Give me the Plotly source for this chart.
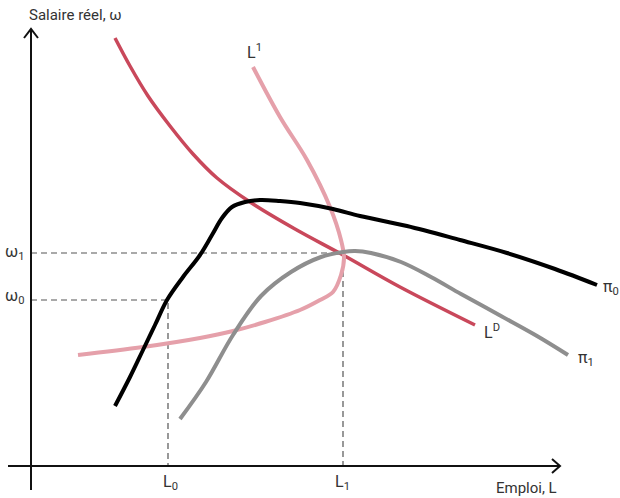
import plotly.graph_objects as go

# Data (chart units: x = employment, y = real wage)
ld_x = [84, 99, 117, 139, 162, 186, 219, 264, 312, 369, 444]
ld_y = [428, 400, 370, 340, 312, 288, 264, 237, 211, 179, 141]

l1_x = [222, 249, 276, 299, 310, 313, 310, 302, 289, 269, 234, 202, 169, 112, 47]
l1_y = [399, 349, 306, 259, 226, 208, 191, 174, 166, 156, 144, 135, 128, 119, 111]

pi0_x = [84, 99, 112, 124, 136, 152, 169, 181, 191, 201, 214, 229, 249, 269, 302, 329, 376, 429, 476, 524, 566]
pi0_y = [60, 89, 116, 141, 166, 189, 211, 231, 248, 259, 264, 266, 265, 263, 257, 250, 240, 226, 213, 197, 181]

pi1_x = [149, 175, 202, 230, 260, 290, 312, 324, 340, 370, 400, 430, 470, 506, 537]
pi1_y = [47, 84, 131, 170, 194, 209, 214, 215, 213, 204, 189, 172, 150, 130, 111]

L0, L1 = 137, 312
W0, W1 = 166, 213

fig = go.Figure()

dash_style = dict(color="#555555", width=1.2, dash="6px,4px")
fig.add_trace(go.Scatter(x=[0, L1, L1], y=[W1, W1, 0], mode="lines", line=dash_style, hoverinfo="skip"))
fig.add_trace(go.Scatter(x=[0, L0, L0], y=[W0, W0, 0], mode="lines", line=dash_style, hoverinfo="skip"))

fig.add_trace(go.Scatter(x=ld_x, y=ld_y, mode="lines", line=dict(color="#c9485b", width=3.5, shape="spline")))
fig.add_trace(go.Scatter(x=l1_x, y=l1_y, mode="lines", line=dict(color="#e5a0aa", width=4, shape="spline")))
fig.add_trace(go.Scatter(x=pi1_x, y=pi1_y, mode="lines", line=dict(color="#8e8e8e", width=4, shape="spline")))
fig.add_trace(go.Scatter(x=pi0_x, y=pi0_y, mode="lines", line=dict(color="#000000", width=4, shape="spline")))

# Axes with arrowheads
ax = dict(type="line", xref="x", yref="y", line=dict(color="#111111", width=2))
shapes = [
    dict(ax, x0=0, y0=-24, x1=0, y1=437),
    dict(ax, x0=-23, y0=0, x1=529, y1=0),
    dict(type="path", xref="x", yref="y", path="M -7,428 L 0,437 L 7,428", line=dict(color="#111111", width=2)),
    dict(type="path", xref="x", yref="y", path="M 521,7 L 529,0 L 521,-7", line=dict(color="#111111", width=2)),
]

tc = "#333333"
F = "Roboto"
def ann(x, y, text, size=16, xa="center", ya="middle"):
    return dict(x=x, y=y, xref="x", yref="y", text=text, showarrow=False,
                xanchor=xa, yanchor=ya, font=dict(family=F, size=size, color=tc))

annotations = [
    ann(-4, 451, "Salaire réel, ω", 15, "left"),
    ann(528, -22, "Emploi, L", 15, "right"),
    ann(-17, W1 + 1, "ω<sub>1</sub>"),
    ann(-17, W0 + 4, "ω<sub>0</sub>"),
    ann(139, -16, "L<sub>0</sub>"),
    ann(311, -16, "L<sub>1</sub>"),
    ann(223, 415, "L<sup>1</sup>", 16),
    ann(451, 135, "L<sup>D</sup>", 16, "left"),
    ann(545, 108, "π<sub>1</sub>", 16, "left"),
    ann(570, 179, "π<sub>0</sub>", 16, "left"),
]

fig.update_layout(
    width=620, height=498,
    margin=dict(l=0, r=0, t=0, b=0),
    paper_bgcolor="white", plot_bgcolor="white",
    showlegend=False,
    xaxis=dict(range=[-31, 589], visible=False, fixedrange=True),
    yaxis=dict(range=[-32, 466], visible=False, fixedrange=True),
    shapes=shapes,
    annotations=annotations,
)

fig.write_html("out.html", config={"displayModeBar": False},
               post_script="document.body.style.margin='0';document.body.style.overflow='hidden';")
